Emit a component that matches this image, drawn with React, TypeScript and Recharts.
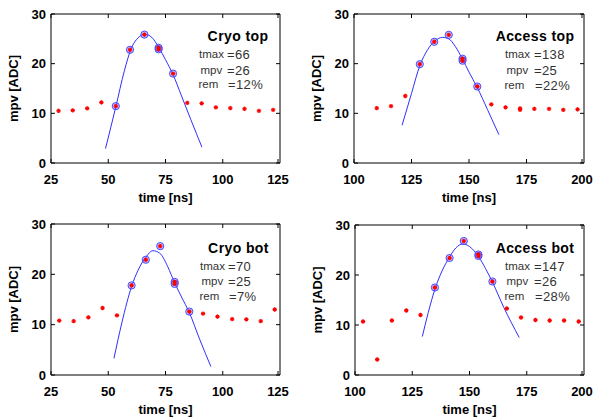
import { ComposedChart, Line, Scatter, XAxis, YAxis } from 'recharts';

// Cryo top
const cryoTopT = [28.3, 34.5, 40.8, 47, 53.3, 59.5, 65.8, 72, 72, 78.3, 84.5, 90.8, 97, 103.3, 109.5, 115.8, 122];
const cryoTopMpv = [10.5, 10.6, 11.0, 12.2, 11.45, 22.8, 25.85, 23.2, 22.9, 18.0, 12.1, 12.0, 11.2, 11.05, 10.9, 10.5, 10.7];
const cryoTopFitT = [48.8, 53.3, 57, 60, 63, 66, 69, 72, 75, 78.3, 82, 86, 90.9];
const cryoTopFitMpv = [2.9, 11.3, 18.5, 23, 25.2, 25.9, 25.3, 23.3, 20.8, 17.8, 13.5, 8.8, 3.2];
const cryoTopSelT = [53.3, 59.5, 65.8, 72, 72, 78.3];
const cryoTopSelMpv = [11.45, 22.8, 25.85, 23.2, 22.9, 18.0];

// Access top
const accTopT = [109.9, 116.1, 122.3, 128.6, 134.9, 141.2, 147.2, 147.2, 153.6, 159.7, 165.9, 172.2, 172.2, 178.4, 184.8, 191, 197.2];
const accTopMpv = [11.05, 11.45, 13.5, 19.9, 24.4, 25.8, 21.0, 20.6, 15.4, 11.8, 11.2, 11.0, 10.7, 10.9, 10.9, 10.7, 10.8];
const accTopFitT = [120.9, 125, 128.6, 132, 135, 138.5, 141.2, 144, 147.2, 150, 153.6, 158, 163];
const accTopFitMpv = [7.6, 14, 19.6, 22.8, 24.5, 25.3, 25.0, 23.5, 20.9, 18.3, 15.2, 10.8, 5.7];
const accTopSelT = [128.6, 134.9, 141.2, 147.2, 147.2, 153.6];
const accTopSelMpv = [19.9, 24.4, 25.8, 21.0, 20.6, 15.4];

// Cryo bot
const cryoBotT = [28.6, 34.9, 41.3, 47.5, 53.8, 60.2, 66.4, 72.7, 79.0, 79.0, 85.4, 91.4, 97.7, 104.1, 110.3, 116.6, 122.7];
const cryoBotMpv = [10.8, 10.7, 11.45, 13.3, 11.85, 17.8, 22.9, 25.6, 18.5, 18.1, 12.6, 12.2, 11.6, 11.1, 11.05, 10.7, 13.0];
const cryoBotFitT = [52.5, 56, 60.2, 63, 66.4, 69.5, 72.5, 76, 79, 82, 85.4, 90, 94.8];
const cryoBotFitMpv = [3.3, 10.5, 17.6, 20.8, 23.4, 24.7, 24.2, 21.5, 18.3, 15.5, 12.4, 7, 1.7];
const cryoBotSelT = [60.2, 66.4, 72.7, 79.0, 79.0, 85.4];
const cryoBotSelMpv = [17.8, 22.9, 25.6, 18.5, 18.1, 12.6];

// Access bot
const accBotT = [103.5, 109.7, 116.1, 122.4, 128.6, 134.9, 141.3, 147.5, 153.9, 153.9, 160, 166.3, 172.5, 178.8, 185.0, 191.3, 197.7];
const accBotMpv = [10.7, 3.1, 10.9, 12.9, 12.0, 17.5, 23.4, 26.8, 24.1, 23.8, 18.7, 13.3, 11.5, 11.0, 10.9, 10.9, 10.7];
const accBotFitT = [129.4, 132, 135, 138, 141.3, 144, 147, 150, 153.9, 157, 160, 165, 171.7];
const accBotFitMpv = [7.7, 12.5, 17.3, 20.8, 23.6, 25.4, 26.2, 25.7, 23.7, 21.3, 18.6, 13.5, 7.5];
const accBotSelT = [134.9, 141.3, 147.5, 153.9, 153.9, 160];
const accBotSelMpv = [17.5, 23.4, 26.8, 24.1, 23.8, 18.7];

const cryoTicks = [25, 50, 75, 100, 125];
const accessTicks = [100, 125, 150, 175, 200];
const mpvTicks = [0, 10, 20, 30];

const FONT = '"Liberation Sans", Arial, Helvetica, sans-serif';

const zip = (t: number[], v: number[]) => t.map((x, i) => ({ t: x, mpv: v[i] }));

const panels = [
  {
    title: 'Cryo top', stats: [['tmax', '=66'], ['mpv', '=26'], ['rem', '=12%']],
    ticks: cryoTicks, t: cryoTopT, mpv: cryoTopMpv, fitT: cryoTopFitT, fitMpv: cryoTopFitMpv, selT: cryoTopSelT, selMpv: cryoTopSelMpv,
    plot: { x: 51, y: 14, w: 229, h: 149 },
    titlePos: [238, 36], statX: 199, eqX: 227, statY: [54, 69.5, 84],
  },
  {
    title: 'Access top', stats: [['tmax', '=138'], ['mpv', '=25'], ['rem', '=22%']],
    ticks: accessTicks, t: accTopT, mpv: accTopMpv, fitT: accTopFitT, fitMpv: accTopFitMpv, selT: accTopSelT, selMpv: accTopSelMpv,
    plot: { x: 354, y: 14, w: 230, h: 149 },
    titlePos: [535, 36], statX: 505, eqX: 534, statY: [54, 70, 84.5],
  },
  {
    title: 'Cryo bot', stats: [['tmax', '=70'], ['mpv', '=25'], ['rem', '=7%']],
    ticks: cryoTicks, t: cryoBotT, mpv: cryoBotMpv, fitT: cryoBotFitT, fitMpv: cryoBotFitMpv, selT: cryoBotSelT, selMpv: cryoBotSelMpv,
    plot: { x: 51, y: 224, w: 229, h: 151 },
    titlePos: [238.5, 247.5], statX: 200, eqX: 228, statY: [266, 281, 295.5],
  },
  {
    title: 'Access bot', stats: [['tmax', '=147'], ['mpv', '=26'], ['rem', '=28%']],
    ticks: accessTicks, t: accBotT, mpv: accBotMpv, fitT: accBotFitT, fitMpv: accBotFitMpv, selT: accBotSelT, selMpv: accBotSelMpv,
    plot: { x: 355, y: 225, w: 229, h: 150 },
    titlePos: [535, 248], statX: 505, eqX: 534, statY: [266, 281, 296],
  },
];

// small per-line nudges, as in the original figure
const labelNudge = [0, 1.5, -0.5];
const eqNudge = [0, 0, 1];

const tickText = { fontFamily: FONT, fontSize: 13, fontWeight: 700, fill: '#000' };

function LeftTick({ x, y, payload }: any) {
  return (
    <g>
      <line x1={x} x2={x + 4} y1={y} y2={y} stroke="#000" />
      <text x={x - 5} y={y} textAnchor="end" dominantBaseline="central" {...tickText}>{payload.value}</text>
    </g>
  );
}

function BottomTick({ x, y, payload }: any) {
  return (
    <g>
      <line x1={x} x2={x} y1={y} y2={y - 4} stroke="#000" />
      <text x={x} y={y + 16} textAnchor="middle" dominantBaseline="central" {...tickText}>{payload.value}</text>
    </g>
  );
}

const RightTick = ({ x, y }: any) => <line x1={x} x2={x - 4} y1={y} y2={y} stroke="#000" />;
const TopTick = ({ x, y }: any) => <line x1={x} x2={x} y1={y} y2={y + 4} stroke="#000" />;

const RedDot = ({ cx, cy }: any) => (
  <g stroke="#ff0000" strokeWidth={1.3}>
    <line x1={cx - 2.2} x2={cx + 2.2} y1={cy} y2={cy} />
    <line x1={cx} x2={cx} y1={cy - 2.2} y2={cy + 2.2} />
    <line x1={cx - 1.5} x2={cx + 1.5} y1={cy - 1.5} y2={cy + 1.5} />
    <line x1={cx - 1.5} x2={cx + 1.5} y1={cy + 1.5} y2={cy - 1.5} />
  </g>
);

const BlueRing = ({ cx, cy }: any) => (
  <circle cx={cx} cy={cy} r={3.6} fill="rgba(120,120,255,0.45)" stroke="#4a4aff" strokeWidth={1} />
);

function Panel({ p }: { p: (typeof panels)[number] }) {
  const { x, y, w, h } = p.plot;
  const width = 51 + w + 10;
  const height = 14 + h + 45;
  const domain = [p.ticks[0], p.ticks[p.ticks.length - 1]];
  return (
    <div style={{ position: 'absolute', left: x - 51, top: y - 14, width, height }}>
      <ComposedChart width={width} height={height} margin={{ top: 13, right: 9, bottom: 0, left: 11 }}>
        <XAxis
          dataKey="t" type="number" domain={domain} ticks={p.ticks} allowDataOverflow
          height={45} tickSize={0} tickMargin={0} tick={<BottomTick />} axisLine={{ stroke: '#000' }}
          label={(props: any) => {
            const vb = props.viewBox;
            return (
              <text x={vb.x + vb.width / 2} y={vb.y + 34} textAnchor="middle" dominantBaseline="central" {...tickText}>
                time [ns]
              </text>
            );
          }}
        />
        <XAxis
          xAxisId="top" orientation="top" dataKey="t" type="number" domain={domain} ticks={p.ticks} allowDataOverflow
          height={1} tickSize={0} tickMargin={0} tick={<TopTick />} axisLine={{ stroke: '#000' }}
        />
        <YAxis
          type="number" domain={[0, 30]} ticks={mpvTicks} allowDataOverflow width={40}
          tickSize={0} tickMargin={0} tick={<LeftTick />} axisLine={{ stroke: '#000' }}
          label={(props: any) => {
            const vb = props.viewBox;
            const cy = vb.y + vb.height / 2;
            return (
              <text x={vb.x + 2} y={cy} transform={`rotate(-90 ${vb.x + 2} ${cy})`} textAnchor="middle" dominantBaseline="central" {...tickText}>
                mpv [ADC]
              </text>
            );
          }}
        />
        <YAxis
          yAxisId="right" orientation="right" type="number" domain={[0, 30]} ticks={mpvTicks} allowDataOverflow width={1}
          tickSize={0} tickMargin={0} tick={<RightTick />} axisLine={{ stroke: '#000' }}
        />
        <Line
          data={zip(p.fitT, p.fitMpv)} dataKey="mpv" type="monotone" dot={false}
          stroke="#2f2fff" strokeWidth={1} isAnimationActive={false}
        />
        <Scatter data={zip(p.selT, p.selMpv)} dataKey="mpv" shape={<BlueRing />} isAnimationActive={false} />
        <Scatter data={zip(p.t, p.mpv)} dataKey="mpv" shape={<RedDot />} isAnimationActive={false} />
      </ComposedChart>
    </div>
  );
}

const statStyle = { position: 'absolute' as const, transform: 'translateY(-50%)', fontFamily: FONT, color: '#333', whiteSpace: 'nowrap' as const };

function Notes({ p }: { p: (typeof panels)[number] }) {
  return (
    <>
      <div
        style={{
          position: 'absolute', left: p.titlePos[0], top: p.titlePos[1], transform: 'translate(-50%, -50%)',
          fontFamily: FONT, fontSize: 14, fontWeight: 700, letterSpacing: 0.4, whiteSpace: 'nowrap', color: '#000',
        }}
      >
        {p.title}
      </div>
      {p.stats.map(([label, val], i) => (
        <div key={label}>
          <div style={{ ...statStyle, left: p.statX + labelNudge[i], top: p.statY[i], fontSize: 11.5 }}>{label}</div>
          <div style={{ ...statStyle, left: p.eqX + eqNudge[i], top: p.statY[i], fontSize: 13, letterSpacing: 0.4 }}>{val}</div>
        </div>
      ))}
    </>
  );
}

export default function App() {
  return (
    <div style={{ position: 'fixed', left: 0, top: 0, width: 597, height: 419, background: '#fff', overflow: 'hidden' }}>
      {panels.map((p) => (
        <Panel key={p.title} p={p} />
      ))}
      {panels.map((p) => (
        <Notes key={p.title} p={p} />
      ))}
    </div>
  );
}
